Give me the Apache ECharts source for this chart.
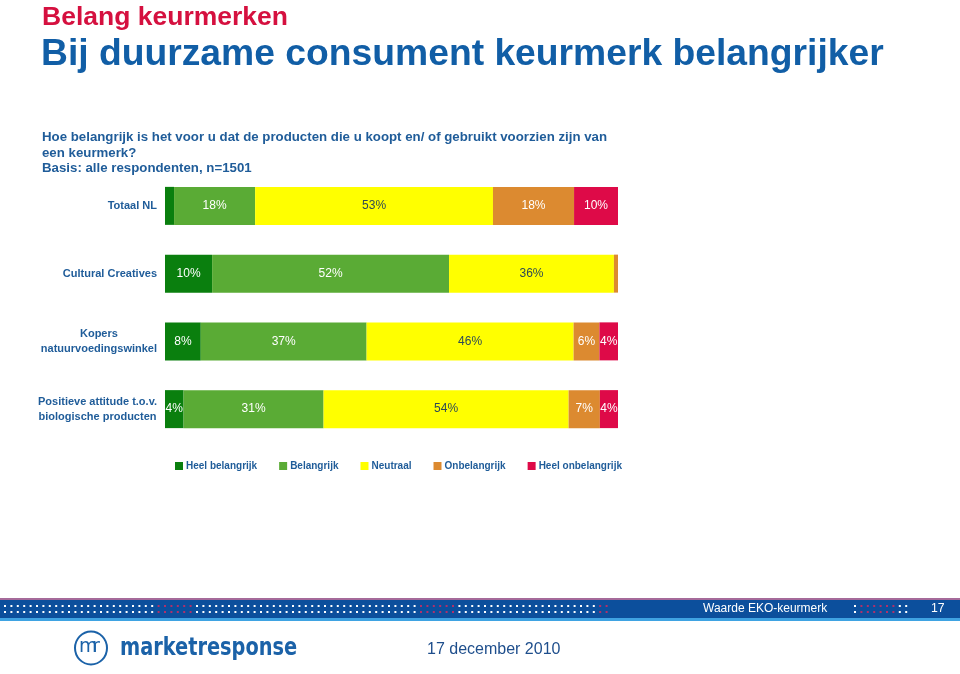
<!DOCTYPE html>
<html><head><meta charset="utf-8">
<script src="https://cdn.jsdelivr.net/npm/echarts@6/dist/echarts.min.js"></script>
<style>html,body{margin:0;padding:0;background:#fff}#c{width:960px;height:674px}</style>
</head><body><div id="c"></div>
<script>
const categories = ['Totaal NL', 'Cultural Creatives', 'Kopers\nnatuurvoedingswinkel', 'Positieve attitude t.o.v.\nbiologische producten'];
const seriesNames = ['Heel belangrijk', 'Belangrijk', 'Neutraal', 'Onbelangrijk', 'Heel onbelangrijk'];
const heelBelangrijk = [2.0, 10.4, 7.9, 4.1];
const belangrijk = [17.9, 52.3, 36.6, 30.9];
const neutraal = [52.5, 36.4, 45.7, 54.1];
const onbelangrijk = [17.9, 0.9, 5.7, 6.9];
const heelOnbelangrijk = [9.7, 0, 4.1, 4.0];

const values = [heelBelangrijk, belangrijk, neutraal, onbelangrijk, heelOnbelangrijk];
const colors = ['#0A7F0E', '#5AAB35', '#FFFF00', '#DC8A30', '#DE0A48'];
const labelColors = ['#fff', '#fff', '#2E4A55', '#fff', '#fff'];
const blue = '#1F5C99';

const chart = echarts.init(document.getElementById('c'), null, {renderer: 'canvas'});

const series = seriesNames.map((n, i) => ({
  name: n, type: 'bar', stack: 'all', barWidth: 38,
  data: values[i],
  itemStyle: {color: colors[i]},
  label: {
    show: true, position: 'inside', color: labelColors[i],
    fontFamily: 'Liberation Sans, Arial', fontSize: 12,
    formatter: p => p.value >= 3 ? Math.round(p.value) + '%' : ''
  }
}));

const graphics = [];
function txt(x, y, text, fill, font, sx, extra) {
  graphics.push({type: 'text', x: x, y: y, scaleX: sx || 1,
    style: Object.assign({x: 0, y: 0, text: text, fill: fill, font: font, verticalAlign: 'top', align: 'left'}, extra || {})});
}
txt(42, 6, 'Belang keurmerken', '#D5103F', 'bold 25px "Liberation Sans", Arial', 1.06);
txt(41, 37, 'Bij duurzame consument keurmerk belangrijker', '#115EA6', 'bold 36px "Liberation Sans", Arial', 1.035);
txt(42, 130, 'Hoe belangrijk is het voor u dat de producten die u koopt en/ of gebruikt voorzien zijn van\neen keurmerk?\nBasis: alle respondenten, n=1501', blue, 'bold 13px "Liberation Sans", Arial', 1.02, {lineHeight: 15.5});

graphics.push({type: 'rect', shape: {x: 0, y: 598, width: 960, height: 2}, style: {fill: '#A56A9A'}});
graphics.push({type: 'rect', shape: {x: 0, y: 600, width: 960, height: 18}, style: {fill: '#0C4F9C'}});
graphics.push({type: 'rect', shape: {x: 0, y: 618, width: 960, height: 3}, style: {fill: '#3FA3E2'}});
function dots(x0, x1, redRanges) {
  for (let x = x0; x <= x1; x += 6.4) {
    const red = redRanges.some(r => x >= r[0] && x <= r[1]);
    [605, 611].forEach(y => graphics.push({type: 'rect', shape: {x: x, y: y, width: 2, height: 2}, style: {fill: red ? '#B0306A' : '#FFFFFF'}}));
  }
}
dots(4, 608, [[155, 196], [414, 455], [598, 610]]);
dots(854, 906, [[860, 895]]);
txt(703, 603, 'Waarde EKO-keurmerk', '#fff', '12px "Liberation Sans", Arial', 1.0);
txt(931, 603, '17', '#fff', '12px "Liberation Sans", Arial', 1.02);

graphics.push({type: 'ellipse', shape: {cx: 91, cy: 648, rx: 16, ry: 16.5}, style: {fill: 'none', stroke: '#1B62A8', lineWidth: 2}});
txt(79, 638, 'm', '#1B62A8', '19px "DejaVu Sans"');
txt(92, 638, 'r', '#1B62A8', '19px "DejaVu Sans"');
txt(120, 636, 'marketresponse', '#1B62A8', 'bold 25px "DejaVu Sans Condensed", "DejaVu Sans"', 0.86);
txt(427, 642, '17 december 2010', '#1E4E8C', '16px "Liberation Sans", Arial');

chart.setOption({
  backgroundColor: '#fff',
  animation: false,
  grid: {left: 165, right: 342, top: 172, height: 271, containLabel: false},
  xAxis: {type: 'value', min: 0, max: 100, show: false},
  yAxis: {
    type: 'category', data: categories, inverse: true,
    axisLine: {show: false}, axisTick: {show: false},
    axisLabel: {
      margin: 8, align: 'right',
      formatter: v => v.split('\n').map(l => '{c|' + l + '}').join('\n'),
      rich: {c: {align: 'center', color: blue, fontFamily: 'Liberation Sans, Arial', fontSize: 11, fontWeight: 'bold', lineHeight: 15}}
    }
  },
  legend: {
    data: seriesNames, left: 175, top: 461, padding: 0, itemWidth: 8, itemHeight: 8, itemGap: 22, icon: 'rect',
    textStyle: {color: blue, fontFamily: 'Liberation Sans, Arial', fontSize: 10, fontWeight: 'bold', padding: [0, 0, 0, -2]}
  },
  series: series,
  graphic: graphics
});
</script></body></html>
